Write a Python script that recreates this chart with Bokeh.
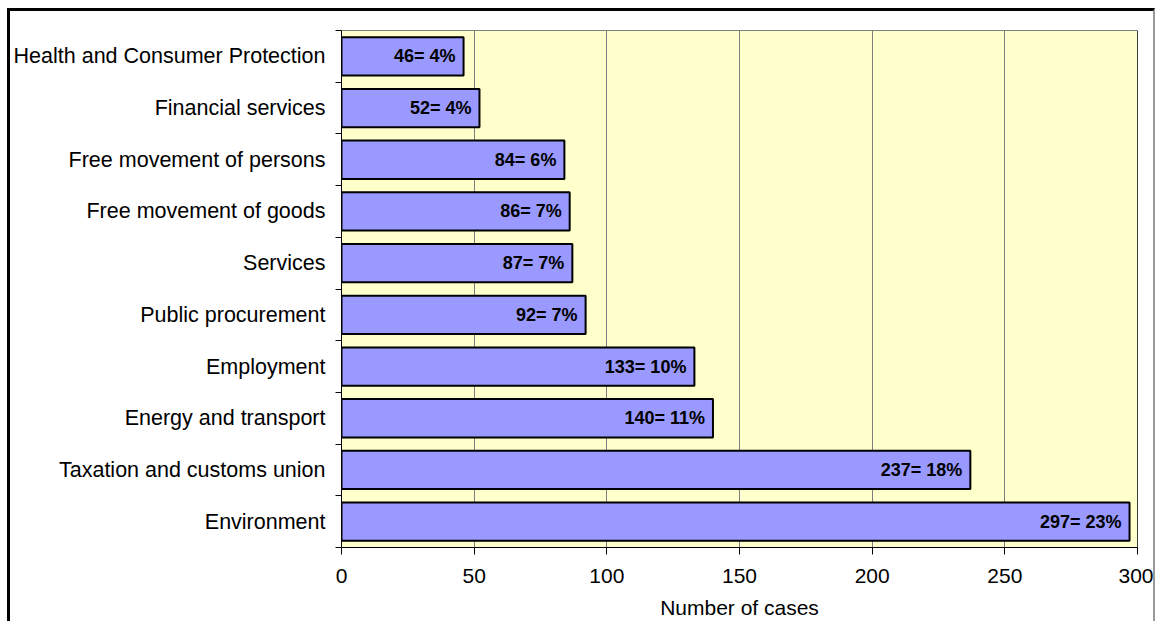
from bokeh.plotting import figure
from bokeh.layouts import column
from bokeh.models import Range1d, FixedTicker, ColumnDataSource, Span
from bokeh.embed import file_html
from bokeh.resources import INLINE
from bokeh.core.properties import value

# Data (bottom to top)
categories = ["Environment", "Taxation and customs union", "Energy and transport",
              "Employment", "Public procurement", "Services", "Free movement of goods",
              "Free movement of persons", "Financial services", "Health and Consumer Protection"]
cases = [297, 237, 140, 133, 92, 87, 86, 84, 52, 46]
percents = [23, 18, 11, 10, 7, 7, 7, 6, 4, 4]
x_ticks = [0, 50, 100, 150, 200, 250, 300]

pos = [i + 0.5 for i in range(len(categories))]
labels = [f"{c}= {p}%" for c, p in zip(cases, percents)]
src = ColumnDataSource(dict(y=pos, x=cases, label=labels))

FONT = "Liberation Sans"

p = figure(frame_width=796, frame_height=517,
           x_range=Range1d(0, 300), y_range=Range1d(0, len(categories)),
           output_backend="svg", toolbar_location=None,
           min_border_left=329, min_border_right=16, min_border_top=19, min_border_bottom=74)

p.background_fill_color = "#FFFFCC"
p.border_fill_color = "white"
p.outline_line_color = "#808080"
p.outline_line_width = 1

p.hbar(y="y", right="x", left=0, height=0.74, source=src,
       fill_color="#9999FF", line_color="black", line_width=2)
p.text(x="x", y="y", text="label", source=src, x_offset=-8,
       text_align="right", text_baseline="middle",
       text_font=value(FONT), text_font_style="bold", text_font_size="18px",
       text_color="black")

# right frame edge in black
p.add_layout(Span(location=x_ticks[-1], dimension="height", line_color="black", line_width=1))

# grid
p.ygrid.visible = False
p.xgrid.grid_line_color = "#7f7f7f"
p.xgrid.grid_line_width = 1

# x axis
p.xaxis.ticker = FixedTicker(ticks=x_ticks)
p.xaxis.axis_label = "Number of cases"
p.xaxis.axis_label_text_font = FONT
p.xaxis.axis_label_text_font_style = "normal"
p.xaxis.axis_label_text_font_size = "21px"
p.xaxis.axis_label_text_color = "black"
p.xaxis.axis_label_standoff = 10
p.xaxis.major_label_text_font = FONT
p.xaxis.major_label_text_font_size = "21px"
p.xaxis.major_label_text_color = "black"
p.xaxis.major_label_standoff = 14
p.xaxis.major_tick_out = 7
p.xaxis.major_tick_in = 0
p.xaxis.minor_tick_line_color = None
p.xaxis.axis_line_color = "black"

# y axis
p.yaxis.ticker = FixedTicker(ticks=pos, minor_ticks=list(range(len(categories) + 1)))
p.yaxis.major_label_overrides = {pv: c for pv, c in zip(pos, categories)}
p.yaxis.major_label_text_font = FONT
p.yaxis.major_label_text_font_size = "21.5px"
p.yaxis.major_label_text_color = "black"
p.yaxis.major_tick_line_color = None
p.yaxis.major_tick_out = 0
p.yaxis.major_tick_in = 0
p.yaxis.minor_tick_out = 6
p.yaxis.minor_tick_in = 0
p.yaxis.minor_tick_line_color = "black"
p.yaxis.major_label_standoff = 10
p.yaxis.axis_line_color = "black"

layout = column(p, styles={"border-left": "3px solid black", "border-top": "3px solid black",
                           "border-right": "2px solid #999999",
                           "margin-left": "7px", "margin-top": "8px"})

open("out.html", "w").write(file_html(layout, INLINE))
